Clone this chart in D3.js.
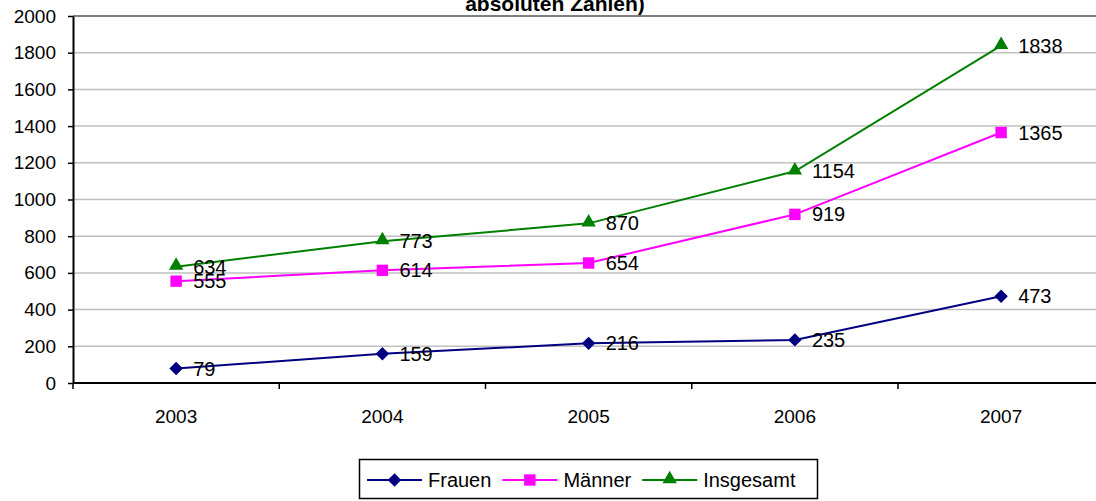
<!DOCTYPE html>
<html>
<head>
<meta charset="utf-8">
<script src="https://cdn.jsdelivr.net/npm/d3@7.9.0/dist/d3.min.js"></script>
<style>
  html, body { margin: 0; padding: 0; background: #fff; }
  svg { display: block; font-family: Arial, "Liberation Sans", sans-serif; }
</style>
</head>
<body>
<svg id="chart" width="1096" height="501"></svg>
<script>
const years = ['2003', '2004', '2005', '2006', '2007'];
const frauen = [79, 159, 216, 235, 473];
const maenner = [555, 614, 654, 919, 1365];
const insgesamt = [634, 773, 870, 1154, 1838];
const yTicks = [0, 200, 400, 600, 800, 1000, 1200, 1400, 1600, 1800, 2000];

const series = [
  { name: 'Frauen', values: frauen, color: '#000080', marker: 'diamond' },
  { name: 'Männer', values: maenner, color: '#ff00ff', marker: 'square' },
  { name: 'Insgesamt', values: insgesamt, color: '#008000', marker: 'triangle' }
];

const svg = d3.select('#chart');
const plotLeft = 73, plotTop = 16, plotBottom = 383, step = 206.25;

const x = d3.scaleBand().domain(years).range([plotLeft, plotLeft + step * years.length]);
const y = d3.scaleLinear().domain([0, 2000]).range([plotBottom, plotTop]);
const cx = d => x(d) + x.bandwidth() / 2;

// title (only the last line is visible)
svg.append('text')
  .attr('x', 555).attr('y', 11)
  .attr('text-anchor', 'middle')
  .attr('font-weight', 'bold')
  .style('font-size', '21px')
  .text('absoluten Zahlen)');

// gridlines
svg.append('g').selectAll('line')
  .data(yTicks.filter(t => t > 0))
  .join('line')
    .attr('x1', plotLeft).attr('x2', 1096)
    .attr('y1', d => y(d)).attr('y2', d => y(d))
    .attr('stroke', d => d === 2000 ? '#808080' : '#c0c0c0')
    .attr('stroke-width', d => d === 2000 ? 2 : 1.5);

// y axis
const yAxis = svg.append('g')
  .attr('transform', `translate(${plotLeft},0)`)
  .call(d3.axisLeft(y).tickValues(yTicks).tickFormat(d3.format('d'))
          .tickSize(5).tickPadding(12).tickSizeOuter(0));
yAxis.attr('font-size', null).attr('font-family', null);
yAxis.select('.domain').attr('stroke', '#000').attr('stroke-width', 2);
yAxis.selectAll('.tick line').attr('stroke', '#000').attr('stroke-width', 1.5);
yAxis.selectAll('.tick text')
  .style('font-size', '19px').attr('fill', '#000');

// x axis
const xAxis = svg.append('g')
  .attr('transform', `translate(0,${plotBottom})`)
  .call(d3.axisBottom(x).tickSize(0).tickPadding(27).tickSizeOuter(0));
xAxis.attr('font-size', null).attr('font-family', null);
xAxis.select('.domain').remove();
xAxis.selectAll('.tick text')
  .style('font-size', '19px').attr('fill', '#000');
svg.append('line')
  .attr('x1', plotLeft).attr('x2', 1096)
  .attr('y1', plotBottom).attr('y2', plotBottom)
  .attr('stroke', '#000').attr('stroke-width', 2);
svg.append('g').selectAll('line')
  .data(years)
  .join('line')
    .attr('x1', d => x(d)).attr('x2', d => x(d))
    .attr('y1', plotBottom).attr('y2', plotBottom + 6)
    .attr('stroke', '#000').attr('stroke-width', 1.5);

const symbolFor = {
  diamond: d3.symbol().type(d3.symbolDiamond2).size(115),
  square: d3.symbol().type(d3.symbolSquare).size(130),
  triangle: d3.symbol().type(d3.symbolTriangle).size(90)
};

const line = d3.line().x(d => cx(d.year)).y(d => y(d.value));

series.forEach(s => {
  const pts = years.map((yr, i) => ({ year: yr, value: s.values[i] }));
  const g = svg.append('g');
  g.append('path')
    .datum(pts)
    .attr('d', line)
    .attr('fill', 'none')
    .attr('stroke', s.color)
    .attr('stroke-width', 2);
  g.selectAll('path.mk')
    .data(pts)
    .join('path')
      .attr('class', 'mk')
      .attr('d', symbolFor[s.marker])
      .attr('transform', d => `translate(${cx(d.year)},${y(d.value) + (s.marker === 'triangle' ? -1 : 0)})`)
      .attr('fill', s.color);
  g.selectAll('text')
    .data(pts)
    .join('text')
      .attr('x', d => cx(d.year) + 17)
      .attr('y', d => y(d.value))
      .attr('dy', '0.35em')
      .style('font-size', '20px')
      .attr('fill', '#000')
      .text(d => d.value);
});

// legend
const legend = svg.append('g');
legend.append('rect')
  .attr('x', 359.5).attr('y', 459.5)
  .attr('width', 458).attr('height', 39)
  .attr('fill', '#fff').attr('stroke', '#000').attr('stroke-width', 1.5);
let lx = 367;
const ly = 480;
series.forEach(s => {
  legend.append('line')
    .attr('x1', lx).attr('x2', lx + 55)
    .attr('y1', ly).attr('y2', ly)
    .attr('stroke', s.color).attr('stroke-width', 2);
  legend.append('path')
    .attr('d', symbolFor[s.marker])
    .attr('transform', `translate(${lx + 27.5},${ly + (s.marker === 'triangle' ? -1 : 0)})`)
    .attr('fill', s.color);
  const t = legend.append('text')
    .attr('x', lx + 61).attr('y', ly)
    .attr('dy', '0.35em')
    .style('font-size', '20px')
    .text(s.name);
  lx += 61 + t.node().getComputedTextLength() + 11;
});
</script>
</body>
</html>
